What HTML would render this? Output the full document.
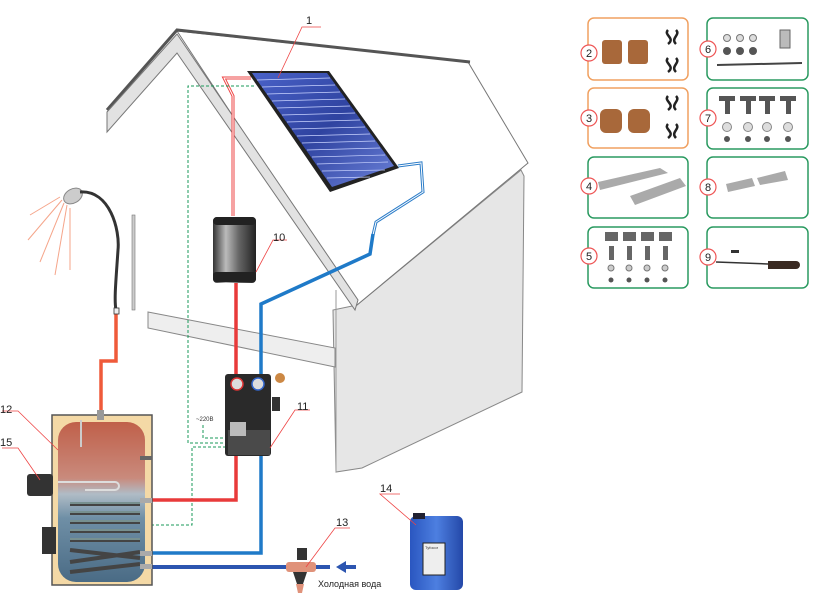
<!DOCTYPE html>
<html><head><meta charset="utf-8"><style>
html,body{margin:0;padding:0;background:#fff}
svg{display:block}
text{font-family:"Liberation Sans","DejaVu Sans",sans-serif}
</style></head><body>
<svg width="821" height="612" viewBox="0 0 821 612" xmlns="http://www.w3.org/2000/svg">
<defs>
<linearGradient id="tank" x1="0" y1="0" x2="0" y2="1">
<stop offset="0" stop-color="#c0604a"/><stop offset="0.35" stop-color="#c98a7c"/><stop offset="0.45" stop-color="#b0bcc6"/><stop offset="0.6" stop-color="#6f8fa6"/><stop offset="1" stop-color="#4a6b85"/></linearGradient>
<linearGradient id="pan" x1="0" y1="0" x2="1" y2="1">
<stop offset="0" stop-color="#4a62c8"/><stop offset="0.5" stop-color="#2f43a0"/><stop offset="1" stop-color="#6a80d8"/></linearGradient>
<linearGradient id="cyl" x1="0" y1="0" x2="1" y2="0">
<stop offset="0" stop-color="#333"/><stop offset="0.3" stop-color="#bbb"/><stop offset="0.6" stop-color="#666"/><stop offset="1" stop-color="#222"/></linearGradient>
<linearGradient id="can" x1="0" y1="0" x2="1" y2="0">
<stop offset="0" stop-color="#2a56c0"/><stop offset="0.5" stop-color="#4d7fe0"/><stop offset="1" stop-color="#2448a8"/></linearGradient>
</defs>
<!-- house right wall -->
<polygon points="357,305 521,170 524,176 522,392 362,468 336,472 333,310" fill="#e6e6e6" stroke="#888" stroke-width="1"/>
<!-- roof right plane -->
<polygon points="177,31 468,62 528,163 357,305" fill="#fff" stroke="#777" stroke-width="1"/>
<polyline points="107,110 177,30 470,62" fill="none" stroke="#555" stroke-width="3"/>
<polygon points="177,34 358,300 355,310 177,53 107,132 107,112" fill="#e2e2e2" stroke="#777" stroke-width="1"/>
<line x1="336" y1="290" x2="336" y2="472" stroke="#999" stroke-width="1"/>
<polygon points="148,312 335,348 335,367 148,328" fill="#eee" stroke="#888" stroke-width="1"/>
<!-- solar panel -->
<polygon points="247,71 329,71 399,168 330,192" fill="#222"/>
<polygon points="252,73 327,73 394,166 332,187" fill="url(#pan)"/>
<g stroke="#c8d2ff" stroke-width="0.7">
<line x1="257" y1="80" x2="330" y2="78"/><line x1="262" y1="87" x2="335" y2="85"/><line x1="267" y1="94" x2="340" y2="92"/><line x1="272" y1="101" x2="345" y2="99"/><line x1="277" y1="108" x2="350" y2="106"/><line x1="282" y1="115" x2="355" y2="113"/><line x1="287" y1="122" x2="360" y2="120"/><line x1="292" y1="129" x2="365" y2="127"/><line x1="297" y1="136" x2="370" y2="134"/><line x1="302" y1="143" x2="375" y2="141"/><line x1="307" y1="150" x2="380" y2="148"/><line x1="312" y1="157" x2="385" y2="155"/><line x1="317" y1="164" x2="388" y2="162"/><line x1="322" y1="171" x2="385" y2="170"/><line x1="327" y1="178" x2="370" y2="177"/>
</g>
<polyline points="251,78 224,78 233,96 233,216" fill="none" stroke="#e44" stroke-width="3"/>
<polyline points="251,78 224,78 233,96 233,216" fill="none" stroke="#fff" stroke-width="1"/>
<polyline points="398,166 421,163 423,192 376,222 373,235" fill="none" stroke="#2b7cc8" stroke-width="3"/>
<polyline points="398,166 421,163 423,192 376,222 373,235" fill="none" stroke="#fff" stroke-width="1"/>
<g fill="none" stroke="#1a9a5a" stroke-width="1" stroke-dasharray="3,2">
<polyline points="254,86 188,86 188,443 226,443"/>
<polyline points="226,447 192,447 192,525 150,525"/>
<polyline points="203,425 203,438 226,438"/>
</g>
<rect x="148" y="523" width="4" height="4" fill="#1a9a5a"/>
<text x="196" y="421" font-size="6" fill="#333">~220В</text>
<polyline points="236,283 236,375" fill="none" stroke="#e83a3a" stroke-width="3.5"/>
<polyline points="236,455 236,500 150,500" fill="none" stroke="#e83a3a" stroke-width="3.5"/>
<polyline points="373,234 370,254 261,304 261,375" fill="none" stroke="#1f7ac8" stroke-width="3.5"/>
<polyline points="261,455 261,553 150,553" fill="none" stroke="#1f7ac8" stroke-width="3.5"/>
<line x1="150" y1="567" x2="330" y2="567" stroke="#2c55b0" stroke-width="4"/>
<polygon points="336,567 346,561 346,565 356,565 356,569 346,569 346,573" fill="#2c55b0"/>
<polyline points="116,313 116,361 101,361 101,412" fill="none" stroke="#ef5a3a" stroke-width="3.5"/>
<rect x="213" y="217" width="43" height="66" rx="4" fill="url(#cyl)"/>
<rect x="213" y="217" width="43" height="8" rx="4" fill="#222"/>
<rect x="213" y="272" width="43" height="10" rx="3" fill="#222"/>
<rect x="225" y="374" width="46" height="82" rx="3" fill="#2a2a2a"/>
<rect x="228" y="430" width="42" height="25" fill="#4a4a4a"/>
<circle cx="237" cy="384" r="6" fill="#ddd" stroke="#d33" stroke-width="1.5"/>
<circle cx="258" cy="384" r="6" fill="#ddd" stroke="#36c" stroke-width="1.5"/>
<rect x="230" y="422" width="16" height="14" fill="#bbb"/>
<rect x="272" y="397" width="8" height="14" fill="#333"/>
<circle cx="280" cy="378" r="5" fill="#c84"/>
<rect x="52" y="415" width="100" height="170" fill="#f4d9a6" stroke="#555" stroke-width="1.5"/>
<rect x="58" y="422" width="87" height="160" rx="18" fill="url(#tank)"/>
<rect x="97" y="410" width="7" height="10" fill="#999"/>
<line x1="81" y1="420" x2="81" y2="447" stroke="#ccc" stroke-width="2"/>
<g fill="none" stroke="#444" stroke-width="4">
<path d="M70,504 H140 M70,513 H140 M70,522 H140 M70,531 H140 M70,540 H140 M70,550 L140,558 M70,562 L140,552 M70,572 L140,564"/>
</g>
<g fill="none" stroke="#8aa" stroke-width="1.5">
<path d="M70,503 H140 M70,512 H140 M70,521 H140 M70,530 H140 M70,539 H140"/>
</g>
<path d="M58,482 H115 a4,4 0 0 1 0,8 H85" fill="none" stroke="#ddd" stroke-width="2"/>
<rect x="27" y="474" width="26" height="22" rx="3" fill="#333"/>
<rect x="42" y="527" width="14" height="27" fill="#333"/>
<rect x="140" y="498" width="12" height="5" fill="#aaa"/>
<rect x="140" y="551" width="12" height="5" fill="#aaa"/>
<rect x="140" y="564" width="12" height="5" fill="#aaa"/>
<rect x="140" y="456" width="12" height="4" fill="#666"/>
<rect x="297" y="548" width="10" height="12" fill="#333"/>
<rect x="286" y="562" width="30" height="10" rx="3" fill="#e0927a"/>
<path d="M293,572 h14 l-4,12 h-6z" fill="#333"/>
<path d="M296,584 h8 l-2,9 h-4z" fill="#e0927a"/>
<rect x="410" y="516" width="53" height="74" rx="6" fill="url(#can)"/>
<rect x="413" y="513" width="12" height="6" fill="#223"/>
<rect x="423" y="543" width="22" height="32" fill="#eee" stroke="#222" stroke-width="1"/>
<text x="425" y="549" font-size="4" fill="#333">Tyfocor</text>
<g stroke="#f5a58a" stroke-width="1" fill="none">
<line x1="62" y1="200" x2="28" y2="240"/><line x1="64" y1="203" x2="40" y2="262"/><line x1="67" y1="205" x2="55" y2="275"/><line x1="60" y1="197" x2="30" y2="215"/><line x1="70" y1="208" x2="70" y2="270"/>
</g>
<ellipse cx="73" cy="196" rx="10" ry="7" fill="#ccc" stroke="#888" transform="rotate(-30 73 196)"/>
<path d="M80,192 C110,190 120,230 118,250 C116,280 114,300 116,310" fill="none" stroke="#333" stroke-width="3"/>
<rect x="114" y="308" width="5" height="6" fill="#eee" stroke="#333" stroke-width="0.8"/>
<rect x="132" y="215" width="3" height="95" fill="#ccc" stroke="#777" stroke-width="0.6"/>
<g stroke="#e44" stroke-width="0.8" fill="none">
<polyline points="321,27 302,27 278,78"/>
<polyline points="287,240 273,240 256,272"/>
<polyline points="310,410 295,410 270,448"/>
<polyline points="2,411 18,411 58,450"/>
<polyline points="2,448 18,448 40,480"/>
<polyline points="350,528 335,528 306,567"/>
<polyline points="400,494 380,494 416,525"/>
</g>
<g font-size="11" fill="#222">
<text x="306" y="24">1</text><text x="273" y="241">10</text><text x="297" y="410">11</text>
<text x="0" y="413">12</text><text x="0" y="446">15</text><text x="336" y="526">13</text><text x="380" y="492">14</text>
</g>
<text x="318" y="587" font-size="9" fill="#222">Холодная вода</text>
<g fill="#fff" stroke-width="1.5">
<rect x="588" y="18" width="100" height="62" rx="6" stroke="#f0a060"/>
<rect x="588" y="88" width="100" height="60" rx="6" stroke="#f0a060"/>
<rect x="588" y="157" width="100" height="61" rx="6" stroke="#2a9a60"/>
<rect x="588" y="227" width="100" height="61" rx="6" stroke="#2a9a60"/>
<rect x="707" y="18" width="101" height="62" rx="6" stroke="#2a9a60"/>
<rect x="707" y="88" width="101" height="61" rx="6" stroke="#2a9a60"/>
<rect x="707" y="157" width="101" height="61" rx="6" stroke="#2a9a60"/>
<rect x="707" y="227" width="101" height="61" rx="6" stroke="#2a9a60"/>
</g>
<g fill="#a8683a"><rect x="602" y="40" width="20" height="24" rx="3"/><rect x="628" y="40" width="20" height="24" rx="3"/>
<rect x="600" y="109" width="22" height="24" rx="6"/><rect x="628" y="109" width="22" height="24" rx="6"/></g>
<g fill="none" stroke="#222" stroke-width="2.5"><path d="M668,30 c-5,5 8,8 0,14 M676,30 c5,5 -6,8 0,14"/><path d="M668,58 c-5,5 8,8 0,14 M676,58 c5,5 -6,8 0,14"/>
<path d="M668,96 c-5,5 8,8 0,14 M676,96 c5,5 -6,8 0,14"/><path d="M668,124 c-5,5 8,8 0,14 M676,124 c5,5 -6,8 0,14"/></g>
<g fill="#aaa"><polygon points="598,182 660,168 668,173 600,190"/><polygon points="630,196 680,178 686,186 635,205"/></g>
<g fill="#666"><rect x="605" y="232" width="13" height="9"/><rect x="623" y="232" width="13" height="9"/><rect x="641" y="232" width="13" height="9"/><rect x="659" y="232" width="13" height="9"/>
<rect x="609" y="246" width="5" height="14"/><rect x="627" y="246" width="5" height="14"/><rect x="645" y="246" width="5" height="14"/><rect x="663" y="246" width="5" height="14"/></g>
<g fill="#ccc" stroke="#777"><circle cx="611" cy="268" r="3"/><circle cx="629" cy="268" r="3"/><circle cx="647" cy="268" r="3"/><circle cx="665" cy="268" r="3"/></g>
<g fill="#555"><circle cx="611" cy="280" r="2.5"/><circle cx="629" cy="280" r="2.5"/><circle cx="647" cy="280" r="2.5"/><circle cx="665" cy="280" r="2.5"/></g>
<g fill="#ddd" stroke="#777"><circle cx="727" cy="38" r="3.5"/><circle cx="740" cy="38" r="3.5"/><circle cx="753" cy="38" r="3.5"/></g>
<g fill="#555"><circle cx="727" cy="51" r="4"/><circle cx="740" cy="51" r="4"/><circle cx="753" cy="51" r="4"/></g>
<rect x="780" y="30" width="10" height="18" fill="#bbb" stroke="#666"/>
<line x1="717" y1="65" x2="802" y2="63" stroke="#444" stroke-width="2"/>
<g fill="#555"><rect x="719" y="96" width="16" height="5"/><rect x="740" y="96" width="16" height="5"/><rect x="759" y="96" width="16" height="5"/><rect x="780" y="96" width="16" height="5"/>
<rect x="725" y="100" width="5" height="14"/><rect x="746" y="100" width="5" height="14"/><rect x="765" y="100" width="5" height="14"/><rect x="786" y="100" width="5" height="14"/></g>
<g fill="#ddd" stroke="#888"><circle cx="727" cy="127" r="4.5"/><circle cx="748" cy="127" r="4.5"/><circle cx="767" cy="127" r="4.5"/><circle cx="788" cy="127" r="4.5"/></g>
<g fill="#555"><circle cx="727" cy="139" r="3"/><circle cx="748" cy="139" r="3"/><circle cx="767" cy="139" r="3"/><circle cx="788" cy="139" r="3"/></g>
<g fill="#aaa"><polygon points="726,184 752,178 755,186 728,192"/><polygon points="757,178 785,171 788,180 760,185"/></g>
<line x1="716" y1="262" x2="768" y2="264" stroke="#333" stroke-width="1.5"/>
<path d="M768,261 h28 a4,4 0 0 1 0,8 h-28z" fill="#3a2a22"/>
<rect x="731" y="250" width="8" height="3" fill="#333"/>
<g fill="#fff" stroke="#e55" stroke-width="1.2"><circle cx="589" cy="53" r="8"/><circle cx="589" cy="118" r="8"/><circle cx="589" cy="186" r="8"/><circle cx="589" cy="256" r="8"/>
<circle cx="708" cy="49" r="8"/><circle cx="708" cy="118" r="8"/><circle cx="708" cy="187" r="8"/><circle cx="708" cy="257" r="8"/></g>
<g font-size="11" fill="#222" text-anchor="middle"><text x="589" y="57">2</text><text x="589" y="122">3</text><text x="589" y="190">4</text><text x="589" y="260">5</text>
<text x="708" y="53">6</text><text x="708" y="122">7</text><text x="708" y="191">8</text><text x="708" y="261">9</text></g>
</svg>
</body></html>
